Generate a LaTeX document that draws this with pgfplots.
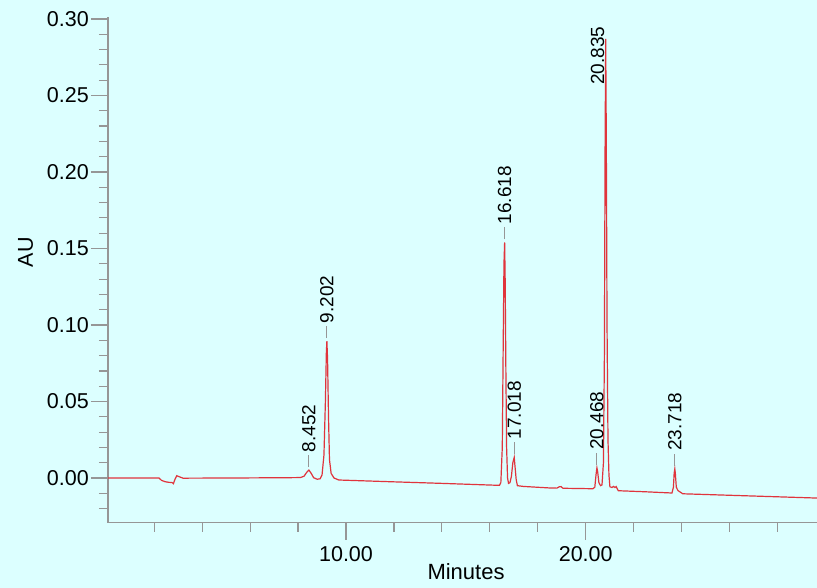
\documentclass[border=0pt]{standalone}
\usepackage{pgfplots}
\pgfplotsset{compat=1.18}
\usepackage{fontspec}
\setmainfont{Liberation Sans}
\definecolor{bg}{RGB}{220,255,255}
\definecolor{trace}{RGB}{224,52,60}
\definecolor{axgray}{RGB}{150,150,150}
\begin{document}
\fontsize{21}{25}\selectfont
\begin{tikzpicture}
\fill[bg] (-108pt,-65.3pt) rectangle (709pt,522.7pt);
\begin{axis}[
  at={(0,0)}, anchor=south west,
  scale only axis, width=709pt, height=505.7pt,
  xmin=0.07, xmax=29.65, ymin=-0.0292, ymax=0.3013,
  axis x line=bottom, axis y line=left,
  axis line style={axgray, line width=1.2pt, -},
  every tick/.style={axgray, line width=1.2pt},
  tick align=outside,
  major tick length=17pt, minor tick length=9pt,
  xtick={10,20}, xticklabels={10.00,20.00},
  minor xtick={2,4,6,8,12,14,16,18,22,24,26,28},
  ytick={0,0.05,0.10,0.15,0.20,0.25,0.30},
  yticklabels={0.00,0.05,0.10,0.15,0.20,0.25,0.30},
  minor ytick={-0.02,-0.01,0.01,0.02,0.03,0.04,0.06,0.07,0.08,0.09,0.11,0.12,0.13,0.14,0.16,0.17,0.18,0.19,0.21,0.22,0.23,0.24,0.26,0.27,0.28,0.29},
  xticklabel style={anchor=base, yshift=-22pt, font=\fontsize{21.5}{25}\selectfont},
  yticklabel style={anchor=east, xshift=5pt, font=\fontsize{21.5}{25}\selectfont},
  xlabel=Minutes, ylabel=AU,
  xlabel style={at={(axis description cs:0.505,-0.1133)}, anchor=base, font=\fontsize{22}{25}\selectfont},
  ylabel style={at={(axis description cs:-0.1058,0.535)}, anchor=base, rotate=0, font=\fontsize{21.5}{25}\selectfont},
  clip=false,
]
\addplot[trace, line width=1.2pt] coordinates {
(0.07,0.0000) (2.20,0.0000) (2.30,-0.0015) (2.45,-0.0024) (2.60,-0.0028)
(2.75,-0.0030) (2.80,-0.0037) (2.86,-0.0010) (2.94,0.0015) (3.05,0.0008)
(3.20,-0.0001) (5.00,0.0000) (7.50,0.0002) (8.10,0.0003) (8.25,0.0012)
(8.35,0.0035) (8.452,0.0052) (8.55,0.0030) (8.65,0.0002) (8.80,-0.0008)
(8.92,-0.0005) (9.00,0.0020) (9.08,0.0150) (9.14,0.0500) (9.18,0.0820)
(9.202,0.0895) (9.23,0.0780) (9.27,0.0400) (9.31,0.0120) (9.38,0.0030)
(9.50,0.0000) (9.70,-0.0013) (12.00,-0.0025) (14.00,-0.0035) (16.40,-0.0048)
(16.46,-0.0030) (16.52,0.0200) (16.56,0.0900) (16.59,0.1400) (16.618,0.1540)
(16.64,0.1300) (16.67,0.0700) (16.70,0.0200) (16.74,0.0000) (16.78,-0.0035)
(16.84,-0.0030) (16.90,0.0010) (16.96,0.0100) (17.018,0.0135) (17.06,0.0060)
(17.10,-0.0010) (17.15,-0.0050) (17.40,-0.0055) (18.50,-0.0065) (18.80,-0.0066)
(18.90,-0.0057) (18.97,-0.0056) (19.05,-0.0067) (20.30,-0.0070) (20.38,-0.0060)
(20.43,0.0020) (20.468,0.0067) (20.50,0.0040) (20.55,-0.0030) (20.62,-0.0050)
(20.68,-0.0045) (20.74,0.0100) (20.78,0.0800) (20.81,0.2200) (20.835,0.2870)
(20.86,0.2200) (20.89,0.1000) (20.93,0.0250) (20.97,0.0020) (21.01,-0.0057)
(21.10,-0.0062) (21.16,-0.0055) (21.22,-0.0062) (21.27,-0.0056) (21.36,-0.0083)
(22.50,-0.0090) (23.60,-0.0098) (23.66,-0.0060) (23.69,0.0030) (23.718,0.0060)
(23.74,0.0030) (23.78,-0.0060) (23.85,-0.0082) (24.05,-0.0103) (29.65,-0.0131)
};
\foreach \t/\h in {8.452/0.0052, 9.202/0.0895, 16.618/0.1540, 17.018/0.0135, 20.468/0.0067, 23.718/0.0060}{
  \edef\tmp{\noexpand\draw[axgray, line width=1pt] ([yshift=3pt]axis cs:\t,\h) -- ([yshift=15pt]axis cs:\t,\h) node[rotate=90, anchor=west, inner sep=2.5pt, text=black, font=\noexpand\fontsize{19}{22}\noexpand\selectfont]{\t};}
  \tmp
}
\node[rotate=90, anchor=base west, inner sep=0pt, font=\fontsize{19}{22}\selectfont] at (axis cs:20.77,0.2569) {20.835};
\end{axis}
\pgfresetboundingbox
\useasboundingbox (-108pt,-65.3pt) rectangle (709pt,522.7pt);
\end{tikzpicture}
\end{document}
